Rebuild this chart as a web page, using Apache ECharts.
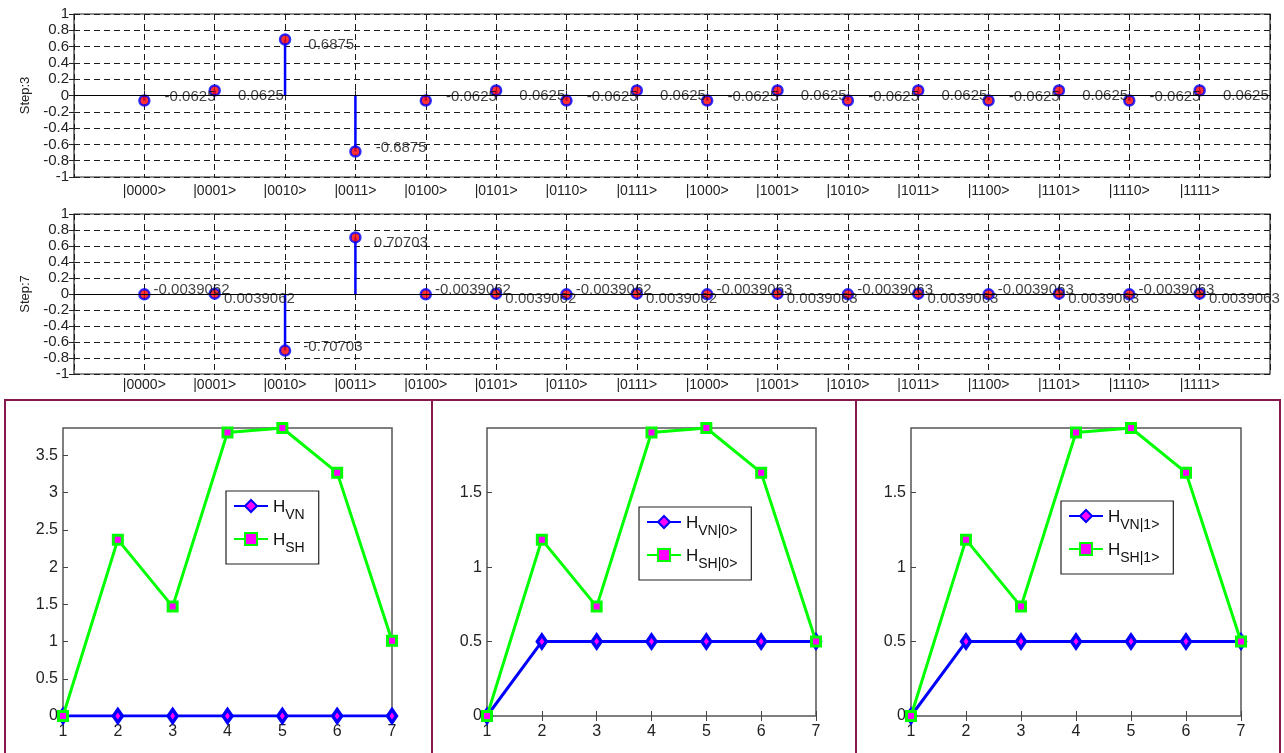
<!DOCTYPE html>
<html><head><meta charset="utf-8">
<script src="https://cdn.jsdelivr.net/npm/echarts@6/dist/echarts.min.js"></script>
<style>html,body{margin:0;padding:0;background:#fff}#c{width:1284px;height:753px}</style>
</head><body><div id="c"></div>
<script>
// ---------- data ----------
const basisStates = ['|0000>','|0001>','|0010>','|0011>','|0100>','|0101>','|0110>','|0111>',
                     '|1000>','|1001>','|1010>','|1011>','|1100>','|1101>','|1110>','|1111>'];
const step3Values = [-0.0625, 0.0625, 0.6875, -0.6875, -0.0625, 0.0625, -0.0625, 0.0625,
                     -0.0625, 0.0625, -0.0625, 0.0625, -0.0625, 0.0625, -0.0625, 0.0625];
const step7Values = [-0.0039062, 0.0039062, -0.70703, 0.70703, -0.0039062, 0.0039062, -0.0039062, 0.0039062,
                     -0.0039063, 0.0039063, -0.0039063, 0.0039063, -0.0039063, 0.0039063, -0.0039063, 0.0039063];
const steps = [1, 2, 3, 4, 5, 6, 7];
const hVN  = [0, 0, 0, 0, 0, 0, 0];
const hSH  = [0, 2.37, 1.47, 3.81, 3.87, 3.27, 1.01];
const hVN0 = [0, 0.5, 0.5, 0.5, 0.5, 0.5, 0.5];
const hSH0 = [0, 1.185, 0.735, 1.905, 1.935, 1.635, 0.5];
const hVN1 = [0, 0.5, 0.5, 0.5, 0.5, 0.5, 0.5];
const hSH1 = [0, 1.185, 0.735, 1.905, 1.935, 1.635, 0.5];
const stemNames = ['Step:3', 'Step:7'];
const legendNames = [['H_VN','H_SH'], ['H_VN|0>','H_SH|0>'], ['H_VN|1>','H_SH|1>']];

// ---------- layout ----------
const FONT = 'Liberation Sans, Arial, sans-serif';
const stemGrids = [
  {left: 74, top: 14, width: 1196, height: 163},
  {left: 74, top: 214, width: 1196, height: 160}
];
const lineGrids = [
  {left: 63, top: 428, width: 329, height: 288},
  {left: 487, top: 428, width: 329, height: 288},
  {left: 911, top: 428, width: 330, height: 288}
];
const legendPos = [{left: 226, top: 491}, {left: 639, top: 507}, {left: 1061, top: 501}];

const grid = [], xAxis = [], yAxis = [], series = [], legend = [];
const dash = {type: [6, 4], color: '#1a1a1a', width: 1};

stemGrids.forEach((g, k) => {
  grid.push(Object.assign({show: true, borderColor: '#222', borderWidth: 1.2, backgroundColor: '#fff'}, g));
  xAxis.push({type: 'value', gridIndex: k, min: 0, max: 17, interval: 1,
    axisLine: {show: false}, axisTick: {show: true, inside: true, length: 5, lineStyle: {color: '#222'}},
    axisLabel: {margin: k === 0 ? 7 : 4, fontSize: 14, color: '#222', fontFamily: FONT,
      formatter: v => (v >= 1 && v <= 16) ? basisStates[v - 1] : ''},
    splitLine: {show: true, lineStyle: dash}});
  xAxis.push({type: 'value', gridIndex: k, min: 0, max: 17, interval: 1, position: 'top',
    axisLine: {show: false}, axisTick: {show: true, inside: true, length: 5, lineStyle: {color: '#222'}},
    axisLabel: {show: false}, splitLine: {show: false}});
  yAxis.push({type: 'value', gridIndex: k, min: -1, max: 1, interval: 0.2,
    name: stemNames[k], nameLocation: 'middle', nameGap: 41,
    nameTextStyle: {fontSize: 13, color: '#222', fontFamily: FONT},
    axisLine: {show: false}, axisTick: {show: true, inside: true, length: 5, lineStyle: {color: '#222'}},
    axisLabel: {margin: 5, fontSize: 15, color: '#222', fontFamily: FONT,
      formatter: v => String(Number(v.toFixed(1)))},
    splitLine: {show: true, lineStyle: dash}});
  yAxis.push({type: 'value', gridIndex: k, min: -1, max: 1, interval: 0.2, position: 'right',
    axisLine: {show: false}, axisTick: {show: true, inside: true, length: 5, lineStyle: {color: '#222'}},
    axisLabel: {show: false}, splitLine: {show: false}});
  const vals = k === 0 ? step3Values : step7Values;
  series.push({type: 'bar', xAxisIndex: 2 * k, yAxisIndex: 2 * k, barWidth: 2.5, silent: true,
    itemStyle: {color: '#0000ff'},
    data: vals.map((v, i) => [i + 1, v]),
    markLine: {silent: true, symbol: ['none', 'none'], label: {show: false},
      lineStyle: {color: '#000', type: 'solid', width: 1.2}, data: [{yAxis: 0}]}});
  series.push({type: 'scatter', xAxisIndex: 2 * k, yAxisIndex: 2 * k, symbol: 'circle', symbolSize: 10,
    itemStyle: {color: '#ff0000', borderColor: '#0000ff', borderWidth: 2.5}, z: 3,
    label: {show: true, position: 'right', distance: 0, fontSize: 15, color: '#111', fontFamily: FONT,
      formatter: p => String(p.value[1])},
    data: vals.map((v, i) => {
      let dx;
      if (k === 0) dx = v < 0 ? 14 : 17;
      else dx = Math.abs(v) < 0.1 ? 3 : 12;
      return {value: [i + 1, v], label: {offset: [dx, v > 0 ? 5 : -4]}};
    })});
});

const lineData = [[hVN, hSH], [hVN0, hSH0], [hVN1, hSH1]];
lineGrids.forEach((g, j) => {
  const gi = 2 + j;
  grid.push(Object.assign({show: true, borderColor: '#555', borderWidth: 1.5, backgroundColor: '#fff'}, g));
  xAxis.push({type: 'value', gridIndex: gi, min: 1, max: 7, interval: 1,
    axisLine: {show: false}, axisTick: {show: true, inside: true, length: 5, lineStyle: {color: '#444'}},
    axisLabel: {margin: 8, fontSize: 16, color: '#222', fontFamily: FONT}, splitLine: {show: false}});
  xAxis.push({type: 'value', gridIndex: gi, min: 1, max: 7, interval: 1, position: 'top',
    axisLine: {show: false}, axisTick: {show: true, inside: true, length: 5, lineStyle: {color: '#444'}},
    axisLabel: {show: false}, splitLine: {show: false}});
  yAxis.push({type: 'value', gridIndex: gi, min: 0, max: 'dataMax', interval: 0.5,
    axisLine: {show: false}, axisTick: {show: true, inside: true, length: 5, lineStyle: {color: '#444'}},
    axisLabel: {margin: 5, fontSize: 16, color: '#222', fontFamily: FONT, showMaxLabel: false},
    splitLine: {show: false}});
  yAxis.push({type: 'value', gridIndex: gi, min: 0, max: 'dataMax', interval: 0.5, position: 'right',
    axisLine: {show: false}, axisTick: {show: true, inside: true, length: 5, lineStyle: {color: '#444'}},
    axisLabel: {show: false}, splitLine: {show: false}});
  const [vn, sh] = lineData[j];
  const [nVN, nSH] = legendNames[j];
  series.push({type: 'line', name: nVN, xAxisIndex: 2 * gi, yAxisIndex: 2 * gi,
    data: steps.map((s, i) => [s, vn[i]]), symbol: 'diamond', symbolSize: [9, 13], showSymbol: true,
    lineStyle: {color: '#0000ff', width: 3},
    itemStyle: {color: '#ff00ff', borderColor: '#0000ff', borderWidth: 3.5}, z: 3});
  series.push({type: 'line', name: nSH, xAxisIndex: 2 * gi, yAxisIndex: 2 * gi,
    data: steps.map((s, i) => [s, sh[i]]), symbol: 'rect', symbolSize: 9, showSymbol: true,
    lineStyle: {color: '#00ff00', width: 3},
    itemStyle: {color: '#ff00ff', borderColor: '#00ff00', borderWidth: 3}, z: 4});
  legend.push(Object.assign({
    data: [nVN, nSH], orient: 'vertical', selectedMode: false,
    padding: [8, 14, 9, 7], itemGap: 10, itemWidth: 34, itemHeight: 15, itemTextGap: 6,
    borderColor: '#222', borderWidth: 1.2, backgroundColor: '#fff',
    formatter: name => { const p = name.indexOf('_'); return '{h|' + name.slice(0, p) + '}{s|' + name.slice(p + 1) + '}'; },
    textStyle: {fontFamily: FONT, color: '#111', rich: {
      h: {fontSize: 17, lineHeight: 14, verticalAlign: 'top', fontFamily: FONT, color: '#111'},
      s: {fontSize: 14, lineHeight: 10, padding: [9, 0, 0, 0], verticalAlign: 'top', fontFamily: FONT, color: '#111'}
    }}
  }, legendPos[j]));
});

const frameColor = '#861a4e';
const graphic = [
  {type: 'rect', shape: {x: 5, y: 400, width: 427, height: 360}, style: {fill: 'none', stroke: frameColor, lineWidth: 2}, z: -10},
  {type: 'rect', shape: {x: 432, y: 400, width: 424, height: 360}, style: {fill: 'none', stroke: frameColor, lineWidth: 2}, z: -10},
  {type: 'rect', shape: {x: 856, y: 400, width: 424, height: 360}, style: {fill: 'none', stroke: frameColor, lineWidth: 2}, z: -10}
];

const chart = echarts.init(document.getElementById('c'));
chart.setOption({animation: false, backgroundColor: '#fff', grid, xAxis, yAxis, series, legend, graphic});
</script></body></html>
